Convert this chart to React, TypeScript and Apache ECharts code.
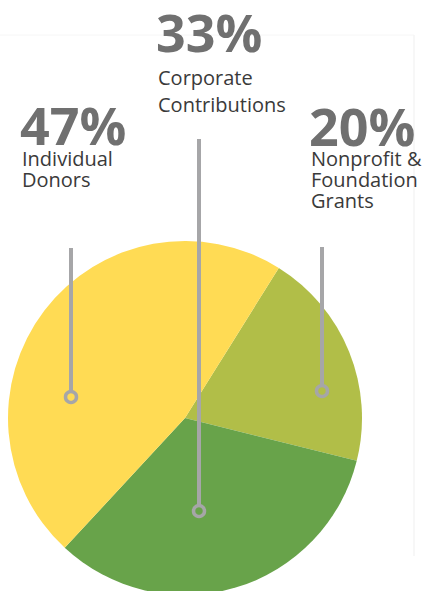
import React, { useEffect, useRef } from "react";
import * as echarts from "echarts";

const categories = ["Nonprofit & Foundation Grants", "Corporate Contributions", "Individual Donors"];
const shares = [20, 33, 47];
const colors = ["#B1BE48", "#68A34A", "#FFDB54"];
const percentLabels = ["20%", "33%", "47%"];
const labelLines = [["Nonprofit &", "Foundation", "Grants"], ["Corporate", "Contributions"], ["Individual", "Donors"]];

// annotation layout (not data)
const PIE_CX = 185;
const PIE_CY = 418;
const PIE_R = 177;
const annos = [
  { tx: 311, py: 125, ly: 148, lh: 21, lineTop: 247, ringX: 322, ringY: 391 },
  { tx: 158, py: 31, ly: 64, lh: 27, lineTop: 139, ringX: 199, ringY: 511 },
  { tx: 22, py: 124, ly: 148, lh: 21, lineTop: 248, ringX: 71, ringY: 397 },
];

export default function App() {
  const ref = useRef<HTMLDivElement>(null);
  useEffect(() => {
    document.body.style.margin = "0";
    const chart = echarts.init(ref.current!, undefined, { renderer: "svg" });
    const graphics: any[] = [
      { type: "line", shape: { x1: 0, y1: 35, x2: 414, y2: 35 }, style: { stroke: "#F6F6F6", lineWidth: 1 }, z: 1 },
      { type: "line", shape: { x1: 414, y1: 35, x2: 414, y2: 556 }, style: { stroke: "#F4F4F4", lineWidth: 1.5 }, z: 1 },
    ];
    annos.forEach((a, i) => {
      graphics.push({
        type: "text",
        x: a.tx - 2,
        y: a.py,
        style: {
          text: percentLabels[i],
          font: "bold 52px 'Open Sans'",
          lineHeight: 40,
          fill: "#707070",
          verticalAlign: "middle",
          align: "left",
        },
        z: 10,
      });
      graphics.push({
        type: "text",
        x: a.tx,
        y: a.ly,
        style: {
          text: labelLines[i].join("\n"),
          font: "20px 'Open Sans'",
          lineHeight: a.lh,
          fill: "#3A3A3A",
          verticalAlign: "top",
          align: "left",
        },
        z: 10,
      });
      graphics.push({
        type: "line",
        shape: { x1: a.ringX, y1: a.lineTop, x2: a.ringX, y2: a.ringY - 6 },
        style: { stroke: "#A6A6A8", lineWidth: 4 },
        z: 20,
      });
      graphics.push({
        type: "circle",
        shape: { cx: a.ringX, cy: a.ringY, r: 5.5 },
        style: { stroke: "#A6A6A8", lineWidth: 3.5, fill: null },
        z: 20,
      });
    });
    chart.setOption({
      animation: false,
      backgroundColor: "#FFFFFF",
      series: [
        {
          type: "pie",
          center: [PIE_CX, PIE_CY],
          radius: PIE_R,
          startAngle: 58,
          clockwise: true,
          label: { show: false },
          labelLine: { show: false },
          emphasis: { disabled: true },
          itemStyle: { borderWidth: 0 },
          data: categories.map((c, i) => ({ name: c, value: shares[i], itemStyle: { color: colors[i] } })),
        },
      ],
      graphic: graphics,
    });
    return () => chart.dispose();
  }, []);
  return <div ref={ref} style={{ width: 422, height: 591 }} />;
}
